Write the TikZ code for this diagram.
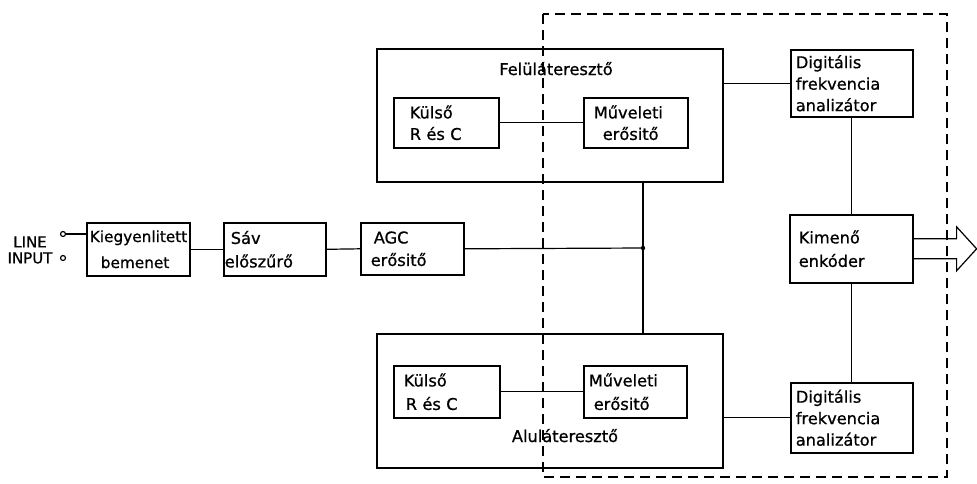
\documentclass[tikz,border=0pt]{standalone}
\usepackage{fontspec}
\setmainfont{DejaVu Sans}[FakeBold=0.8]
\begin{document}
\begin{tikzpicture}[x=1pt,y=-1pt,
  font=\fontsize{16.2}{21.5}\selectfont,
  box/.style={draw, line width=1.6pt, inner ysep=0pt, align=left, anchor=north west},
  bigbox/.style={draw, line width=1.6pt, inner sep=0pt, anchor=north west},
  conn/.style={line width=1.2pt},
  title/.style={anchor=base, inner sep=0pt},
  term/.style={circle, draw, line width=1.2pt, minimum size=5pt, inner sep=0pt},
  frame/.style={line width=1.2pt, dash pattern=on 10pt off 6pt}
]
\useasboundingbox (0,0) rectangle (977,483);

% input
\node[align=center, inner sep=0pt, font=\fontsize{15}{16}\selectfont] (lineinput) at (30,250) {LINE\\INPUT};
\node[term] (in1) at (63,234) {};
\node[term] (in2) at (63,258) {};

% chain
\node[box, minimum height=53pt, text width=97pt, inner xsep=3pt, font=\fontsize{15.3}{21}\selectfont] (kieg) at (86,222)
  {Kiegyenlitett\\[5pt]\hspace*{11pt}bemenet};
\node[box, minimum height=53pt, text width=100pt, inner xsep=1pt] (sav) at (223,222)
  {\hspace*{6pt}Sáv\\[2pt]előszűrő};
\node[box, minimum height=52pt, text width=83pt, inner xsep=10pt] (agc) at (360,222)
  {\hspace*{3pt}AGC\\[1pt]erősitő};

% big filter boxes
\node[bigbox, minimum width=346pt, minimum height=133pt] (felul) at (376,48) {};
\node[title] (felulT) at (556,75) {Felüláteresztő};
\node[bigbox, minimum width=346pt, minimum height=134pt] (alul) at (376,333) {};
\node[title] (alulT) at (565,442) {Aluláteresztő};

\node[box, minimum height=50pt, text width=73pt, inner xsep=16pt] (kulso1) at (393,97)
  {Külső\\R és C};
\node[box, minimum height=50pt, text width=84pt, inner xsep=10pt] (muv1) at (583,97)
  {Műveleti\\\hspace*{9pt}erősitő};
\node[box, minimum height=52pt, text width=86pt, inner xsep=10pt] (kulso2) at (393,365)
  {Külső\\[2pt]\hspace*{2pt}R és C};
\node[box, minimum height=52pt, text width=93pt, inner xsep=5pt] (muv2) at (583,365)
  {Műveleti\\[2pt]\hspace*{5pt}erősitő};

% right column
\node[box, minimum height=67pt, text width=112pt, inner xsep=5pt] (dig1) at (790,49)
  {Digitális\\frekvencia\\analizátor};
\node[box, minimum height=68pt, text width=105pt, inner xsep=9pt] (kim) at (789,214)
  {Kimenő\\[2pt]enkóder};
\node[box, minimum height=70pt, text width=112pt, inner xsep=5pt] (dig2) at (790,382)
  {Digitális\\frekvencia\\analizátor};

% dashed frame
\coordinate (fr1) at (543,14);
\coordinate (fr2) at (947,477);
\draw[frame] (fr1) rectangle (fr2);

% connectors
\draw[conn] (in1.east) -- (in1 -| kieg.west);
\draw[conn] (kieg.east) -- (sav.west);
\draw[conn] (sav.east) -- (agc.west);
\coordinate (junc) at (643,248);
\draw[conn] (agc.east) -- (junc);
\fill (junc) circle (2.2pt);
\draw[conn] (junc) -- (junc |- felul.south);
\draw[conn] (junc) -- (junc |- alul.north);
\draw[conn] (kulso1.east) -- (muv1.west);
\draw[conn] (kulso2.east) -- (muv2.west);
\draw[conn] (dig1.west -| felul.east) -- (dig1.west);
\draw[conn] (dig2.west -| alul.east) -- (dig2.west);
\draw[conn] (dig1.south) -- (dig1.south |- kim.north);
\draw[conn] (kim.south) -- (kim.south |- dig2.north);

% output arrow
\coordinate (kout) at (kim.east);
\draw[conn, line join=miter] (kout) ++(0,-10) -- ++(43,0) -- ++(0,-12) -- ++(20,22)
  -- ++(-20,22) -- ++(0,-12) -- ++(-43,0);
\end{tikzpicture}
\end{document}
